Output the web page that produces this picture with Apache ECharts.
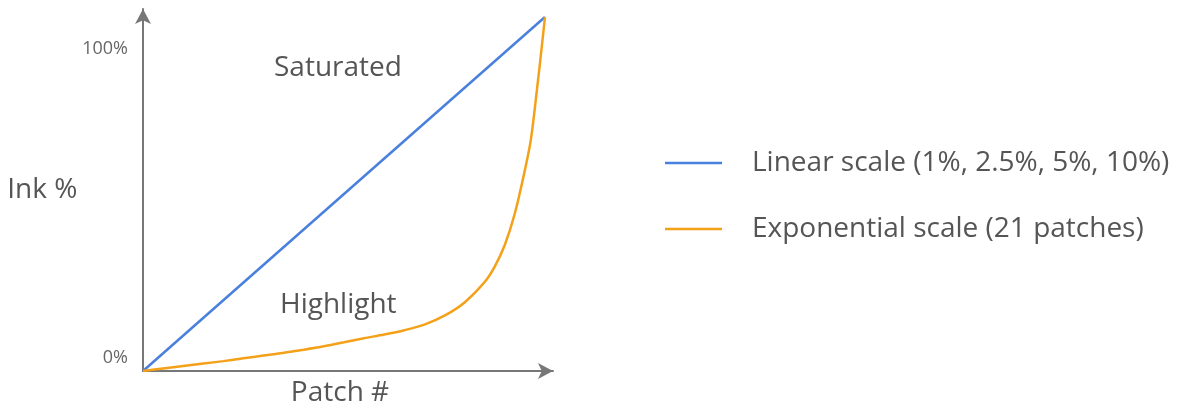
<!DOCTYPE html>
<html>
<head>
<meta charset="utf-8">
<script src="https://cdn.jsdelivr.net/npm/echarts@6/dist/echarts.min.js"></script>
<style>
html,body{margin:0;padding:0;background:#fff;}
#chart{width:1183px;height:408px;}
</style>
</head>
<body>
<div id="chart"></div>
<script>
// Patch index (x) and ink % (y)
const linearX = [0, 20];
const linearY = [0, 114.6];
const expX = [0, 1, 2, 3, 4, 5, 6, 7, 8, 9, 10, 11, 12, 13, 14, 15, 16, 17, 17.5, 18, 18.5, 19, 19.3, 19.6, 19.85, 20];
const expY = [0, 0.8, 1.6, 2.4, 3.2, 4.1, 5.0, 5.9, 6.9, 8.0, 9.3, 10.6, 11.8, 13.2, 15.0, 17.9, 22.2, 28.8, 33.8, 40.8, 51, 65, 75, 91, 105.5, 114.6];
const yTicks = [0, 100];
const seriesNames = ['Linear scale (1%, 2.5%, 5%, 10%)', 'Exponential scale (21 patches)'];
const xName = 'Patch #';
const yName = 'Ink %';
const regionLabels = ['Saturated', 'Highlight'];

const pair = (xs, ys) => xs.map((x, i) => [x, ys[i]]);
const FONT = 'Open Sans';
const TXT = '#555';

const chart = echarts.init(document.getElementById('chart'));
chart.setOption({
  backgroundColor: '#fff',
  animation: false,
  grid: { left: 143, right: 630, top: 9, bottom: 37, containLabel: false, outerBoundsMode: 'none' },
  xAxis: {
    type: 'value', min: 0, max: 20.4,
    name: xName, nameLocation: 'middle', nameGap: 8,
    nameTextStyle: { fontFamily: FONT, fontSize: 28, color: TXT, verticalAlign: 'top', padding: [0, 16, 0, 0] },
    axisLine: { show: true, symbol: ['none', 'arrow'], symbolSize: [12, 15], lineStyle: { color: '#777', width: 2 } },
    axisTick: { show: false }, axisLabel: { show: false }, splitLine: { show: false }
  },
  yAxis: {
    type: 'value', min: 0, max: 117.2, interval: 100,
    name: yName, nameLocation: 'middle', nameRotate: 0, nameGap: 54,
    nameTextStyle: { fontFamily: FONT, fontSize: 28, color: TXT, padding: [0, 0, 6, 0] },
    axisLine: { show: true, symbol: ['none', 'arrow'], symbolSize: [12, 15], lineStyle: { color: '#777', width: 2 } },
    axisTick: { show: false }, splitLine: { show: false },
    axisLabel: {
      showMaxLabel: false, margin: 15, fontFamily: FONT, fontSize: 18, color: '#666',
      verticalAlign: 'bottom', padding: [0, 0, 4, 0],
      formatter: v => (yTicks.indexOf(v) >= 0 ? v + '%' : '')
    }
  },
  legend: {
    orient: 'vertical', left: 660, top: 143,
    icon: 'rect', itemWidth: 57, itemHeight: 2.5, itemGap: 36,
    textStyle: { fontFamily: FONT, fontSize: 28, color: TXT, lineHeight: 30, padding: [0, 0, 0, 25] },
    data: seriesNames
  },
  graphic: [
    { type: 'text', x: 274, y: 68, style: { text: regionLabels[0], font: '28px "' + FONT + '"', fill: TXT, verticalAlign: 'middle' } },
    { type: 'text', x: 280, y: 305, style: { text: regionLabels[1], font: '28px "' + FONT + '"', fill: TXT, verticalAlign: 'middle' } }
  ],
  series: [
    { name: seriesNames[0], type: 'line', data: pair(linearX, linearY), symbol: 'none',
      lineStyle: { color: '#4a80dd', width: 2.5 }, itemStyle: { color: '#4a80dd' } },
    { name: seriesNames[1], type: 'line', data: pair(expX, expY), symbol: 'none', smooth: 0.3,
      lineStyle: { color: '#f4a11a', width: 2.5 }, itemStyle: { color: '#f4a11a' } }
  ]
});
</script>
</body>
</html>
